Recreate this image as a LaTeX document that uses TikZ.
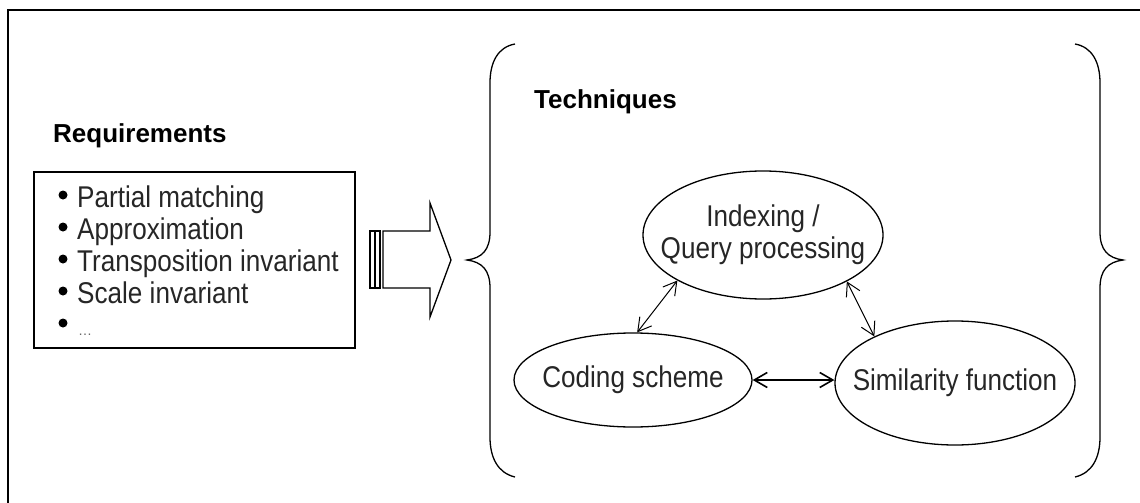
\documentclass[tikz,border=0pt]{standalone}
\usepackage{fontspec}
\setmainfont{Liberation Sans}
\newfontfamily\narrowsans[FakeStretch=0.87]{Liberation Sans}
\usetikzlibrary{shapes.geometric,arrows.meta}

\tikzset{
  lbl/.style={font=\narrowsans\fontsize{30}{32}\selectfont, inner sep=0pt, text=black!85},
  ttl/.style={font=\bfseries\fontsize{26}{30}\selectfont, inner sep=0pt},
  oval/.style={draw, ellipse, line width=1.3pt, inner sep=0pt},
  bul/.style={circle, fill=black, inner sep=0pt, minimum size=9pt},
  thin/.style={line width=1.3pt},
  link/.style={line width=1pt,
    {Straight Barb[length=13pt,width=15pt]}-{Straight Barb[length=13pt,width=15pt]}},
}

\begin{document}
\begin{tikzpicture}[x=1pt, y=-1pt]
  \useasboundingbox (0,0) rectangle (1140,503);

  % outer frame (top and left edges)
  \draw[line width=2.5pt] (8,503) -- (8,10) -- (1140,10);

  % requirements panel
  \node[ttl, anchor=base west] (req) at (53,142) {Requirements};
  \draw[thin] (34,172) rectangle (355,348);
  \foreach \i/\t in {0/Partial matching, 1/Approximation,
                     2/Transposition invariant, 3/Scale invariant} {
    \node[bul] (b\i) at (63,{195+32*\i}) {};
    \node[lbl, anchor=base west] (r\i) at (77,{207+32*\i}) {\t};
  }
  \node[bul] (b4) at (63,323) {};
  \node[lbl, anchor=base west, font=\fontsize{14}{16}\selectfont, text=black!60]
    (r4) at (78,335) {…};

  % striped block arrow
  \draw[thin] (370,231) rectangle (380,288);
  \fill (373.5,231) rectangle (376.3,288);
  \draw[thin] (383,231) -- (430,231) -- (430,203) -- (451,260)
        -- (430,317) -- (430,288) -- (383,288) -- cycle;

  % braces around the techniques
  \draw[thin] (515,44) .. controls (498,47) and (490,62) .. (490,83)
        -- (490,232) .. controls (490,250) and (482,258) .. (467,260)
        .. controls (482,262) and (490,270) .. (490,288)
        -- (490,437) .. controls (490,458) and (498,473) .. (515,477);
  \draw[thin] (1075,44) .. controls (1092,47) and (1100,62) .. (1100,83)
        -- (1100,232) .. controls (1100,250) and (1108,258) .. (1123,260)
        .. controls (1108,262) and (1100,270) .. (1100,288)
        -- (1100,437) .. controls (1100,458) and (1092,473) .. (1075,477);

  % techniques panel
  \node[ttl, anchor=base west] (tech) at (534,108) {Techniques};

  \node[oval, minimum width=240pt, minimum height=128pt] (idx) at (763,235) {};
  \node[oval, minimum width=238pt, minimum height=94pt]  (cod) at (633,380) {};
  \node[oval, minimum width=240pt, minimum height=124pt] (sim) at (955,383) {};

  \node[lbl, align=center] (idxt) at (idx) {Indexing /\\Query processing};
  \node[lbl] (codt) at (cod) {Coding scheme};
  \node[lbl] (simt) at (sim) {Similarity function};

  \draw[link] (idx.208) -- (cod.85);
  \draw[link] (idx.331) -- (sim.150);
  \draw[link, line width=1.6pt] (cod.east) -- (cod.east -| sim.west);
\end{tikzpicture}
\end{document}
